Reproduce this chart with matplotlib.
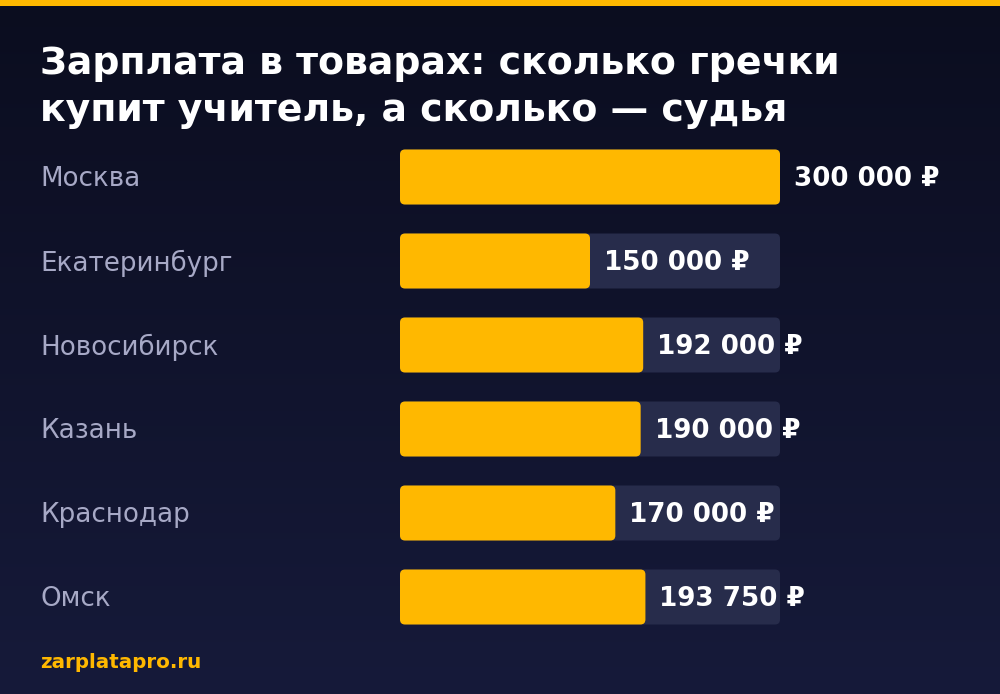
import numpy as np
import matplotlib.pyplot as plt
from matplotlib.patches import FancyBboxPatch, Rectangle
from matplotlib.colors import LinearSegmentedColormap

# Data
cities = ["Москва", "Екатеринбург", "Новосибирск", "Казань", "Краснодар", "Омск"]
salaries = [300000, 150000, 192000, 190000, 170000, 193750]
max_salary = 300000

title_lines = ["Зарплата в товарах: сколько гречки",
               "купит учитель, а сколько — судья"]
source = "zarplatapro.ru"

YELLOW = "#FFB800"
TRACK = "#272c4b"
LABEL = "#a7a9c6"

W, H = 1000, 694
fig = plt.figure(figsize=(W / 100, H / 100), dpi=100)

# background gradient
bg = fig.add_axes([0, 0, 1, 1])
grad = np.linspace(0, 1, 256).reshape(-1, 1)
cmap = LinearSegmentedColormap.from_list("bg", ["#0b0d1f", "#161a3a"])
bg.imshow(grad, aspect="auto", cmap=cmap, extent=[0, W, H, 0])
bg.add_patch(Rectangle((0, 0), W, 6, color=YELLOW, lw=0))
bg.set_xlim(0, W)
bg.set_ylim(H, 0)
bg.axis("off")

for k, line in enumerate(title_lines):
    bg.text(40, 64 + 47 * k, line, color="white", fontsize=27.3,
            fontweight="bold", va="center", ha="left")
bg.text(40, 663, source, color=YELLOW, fontsize=14.3, fontweight="bold",
        va="center", ha="left")

# bar axes: pixels 400..780 horizontally, 135..639 vertically
row = 84
top, n = 135, len(cities)
ax = fig.add_axes([400 / W, (H - top - row * n) / H, 380 / W, row * n / H])
ax.set_xlim(0, max_salary)
ax.set_ylim(n - 0.5, -0.5)
ax.axis("off")
ax.patch.set_alpha(0)

x_per_px = max_salary / 380
y_per_px = 1 / row
bar_h = 55 / row
radius = 5 * x_per_px
aspect = y_per_px / x_per_px

for i, (city, val) in enumerate(zip(cities, salaries)):
    ax.add_patch(FancyBboxPatch((0, i - bar_h / 2), max_salary, bar_h,
                                boxstyle=f"round,pad=0,rounding_size={radius}",
                                mutation_aspect=aspect, fc=TRACK, ec="none"))
    ax.add_patch(FancyBboxPatch((0, i - bar_h / 2), val, bar_h,
                                boxstyle=f"round,pad=0,rounding_size={radius}",
                                mutation_aspect=aspect, fc=YELLOW, ec="none"))
    label = f"{val:,}".replace(",", " ") + " ₽"
    ax.text(val + 14 * x_per_px, i + 1.5 * y_per_px, label, color="white",
            fontsize=18.8, fontweight="bold", va="center", ha="left",
            clip_on=False)
    bg.text(40, top + row * i + row / 2 + 2, city, color=LABEL, fontsize=18.8,
            va="center", ha="left")

fig.savefig("out.png", dpi=100)
